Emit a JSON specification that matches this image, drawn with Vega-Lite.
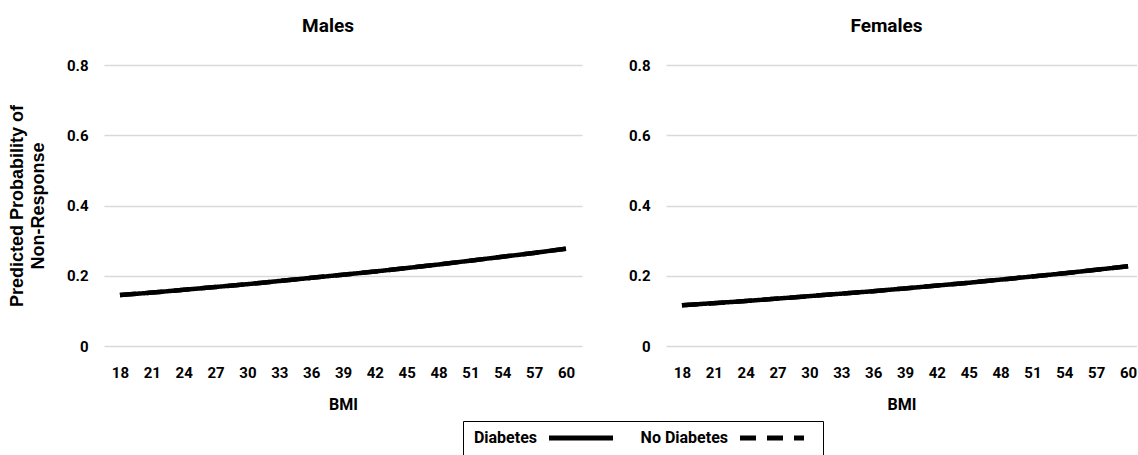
{
  "$schema": "https://vega.github.io/schema/vega-lite/v6.json",
  "padding": {"left": 8, "top": 17, "right": 0, "bottom": 0},
  "background": "white",
  "config": {
    "view": {"stroke": null},
    "font": "Roboto",
    "axis": {
      "labelFont": "Roboto",
      "labelFontWeight": "bold",
      "labelFontSize": 15,
      "labelColor": "#000000",
      "titleFont": "Roboto",
      "titleFontWeight": "bold",
      "titleFontSize": 16,
      "titleColor": "#000000",
      "ticks": false,
      "tickSize": 0,
      "domain": false
    },
    "title": {"font": "Roboto", "fontWeight": "bold", "fontSize": 19, "color": "#000000"}
  },
  "datasets": {
    "males": [
      {"BMI": 18, "p": 0.145, "group": "Diabetes"},
      {"BMI": 21, "p": 0.152, "group": "Diabetes"},
      {"BMI": 24, "p": 0.160, "group": "Diabetes"},
      {"BMI": 27, "p": 0.168, "group": "Diabetes"},
      {"BMI": 30, "p": 0.176, "group": "Diabetes"},
      {"BMI": 33, "p": 0.185, "group": "Diabetes"},
      {"BMI": 36, "p": 0.194, "group": "Diabetes"},
      {"BMI": 39, "p": 0.203, "group": "Diabetes"},
      {"BMI": 42, "p": 0.212, "group": "Diabetes"},
      {"BMI": 45, "p": 0.222, "group": "Diabetes"},
      {"BMI": 48, "p": 0.232, "group": "Diabetes"},
      {"BMI": 51, "p": 0.243, "group": "Diabetes"},
      {"BMI": 54, "p": 0.254, "group": "Diabetes"},
      {"BMI": 57, "p": 0.265, "group": "Diabetes"},
      {"BMI": 60, "p": 0.277, "group": "Diabetes"},
      {"BMI": 18, "p": 0.145, "group": "No Diabetes"},
      {"BMI": 21, "p": 0.152, "group": "No Diabetes"},
      {"BMI": 24, "p": 0.160, "group": "No Diabetes"},
      {"BMI": 27, "p": 0.168, "group": "No Diabetes"},
      {"BMI": 30, "p": 0.176, "group": "No Diabetes"},
      {"BMI": 33, "p": 0.185, "group": "No Diabetes"},
      {"BMI": 36, "p": 0.194, "group": "No Diabetes"},
      {"BMI": 39, "p": 0.203, "group": "No Diabetes"},
      {"BMI": 42, "p": 0.212, "group": "No Diabetes"},
      {"BMI": 45, "p": 0.222, "group": "No Diabetes"},
      {"BMI": 48, "p": 0.232, "group": "No Diabetes"},
      {"BMI": 51, "p": 0.243, "group": "No Diabetes"},
      {"BMI": 54, "p": 0.254, "group": "No Diabetes"},
      {"BMI": 57, "p": 0.265, "group": "No Diabetes"},
      {"BMI": 60, "p": 0.277, "group": "No Diabetes"}
    ],
    "females": [
      {"BMI": 18, "p": 0.116, "group": "Diabetes"},
      {"BMI": 21, "p": 0.122, "group": "Diabetes"},
      {"BMI": 24, "p": 0.128, "group": "Diabetes"},
      {"BMI": 27, "p": 0.135, "group": "Diabetes"},
      {"BMI": 30, "p": 0.142, "group": "Diabetes"},
      {"BMI": 33, "p": 0.149, "group": "Diabetes"},
      {"BMI": 36, "p": 0.156, "group": "Diabetes"},
      {"BMI": 39, "p": 0.164, "group": "Diabetes"},
      {"BMI": 42, "p": 0.172, "group": "Diabetes"},
      {"BMI": 45, "p": 0.180, "group": "Diabetes"},
      {"BMI": 48, "p": 0.189, "group": "Diabetes"},
      {"BMI": 51, "p": 0.198, "group": "Diabetes"},
      {"BMI": 54, "p": 0.207, "group": "Diabetes"},
      {"BMI": 57, "p": 0.217, "group": "Diabetes"},
      {"BMI": 60, "p": 0.227, "group": "Diabetes"},
      {"BMI": 18, "p": 0.116, "group": "No Diabetes"},
      {"BMI": 21, "p": 0.122, "group": "No Diabetes"},
      {"BMI": 24, "p": 0.128, "group": "No Diabetes"},
      {"BMI": 27, "p": 0.135, "group": "No Diabetes"},
      {"BMI": 30, "p": 0.142, "group": "No Diabetes"},
      {"BMI": 33, "p": 0.149, "group": "No Diabetes"},
      {"BMI": 36, "p": 0.156, "group": "No Diabetes"},
      {"BMI": 39, "p": 0.164, "group": "No Diabetes"},
      {"BMI": 42, "p": 0.172, "group": "No Diabetes"},
      {"BMI": 45, "p": 0.180, "group": "No Diabetes"},
      {"BMI": 48, "p": 0.189, "group": "No Diabetes"},
      {"BMI": 51, "p": 0.198, "group": "No Diabetes"},
      {"BMI": 54, "p": 0.207, "group": "No Diabetes"},
      {"BMI": 57, "p": 0.217, "group": "No Diabetes"},
      {"BMI": 60, "p": 0.227, "group": "No Diabetes"}
    ]
  },
  "spacing": 46,
  "resolve": {"scale": {"x": "independent", "y": "independent"}, "legend": {"strokeDash": "shared"}},
  "hconcat": [
    {
      "width": 478,
      "height": 281,
      "title": {"text": "Males", "frame": "group", "anchor": "middle", "dx": -15, "offset": 22},
      "data": {"name": "males"},
      "mark": {"type": "line", "color": "#000000", "strokeWidth": 4.5, "clip": true},
      "encoding": {
        "x": {
          "field": "BMI", "type": "quantitative",
          "scale": {"domain": [16.5, 61.5], "nice": false, "zero": false},
          "axis": {"values": [18, 21, 24, 27, 30, 33, 36, 39, 42, 45, 48, 51, 54, 57, 60], "grid": false, "labelPadding": 19, "title": "BMI", "titlePadding": 16}
        },
        "y": {
          "field": "p", "type": "quantitative",
          "scale": {"domain": [0, 0.8], "nice": false},
          "axis": {"values": [0, 0.2, 0.4, 0.6, 0.8], "format": "~g", "grid": true, "gridColor": "#d9d9d9", "gridWidth": 1.5, "labelPadding": 16,
                   "title": ["Predicted Probability of", "Non-Response"], "titleFont": "Liberation Sans", "titleFontSize": 18, "titleLineHeight": 21, "titlePadding": 19}
        },
        "strokeDash": {
          "field": "group", "type": "nominal",
          "scale": {"domain": ["Diabetes", "No Diabetes"], "range": [[1, 0], [16, 11]]},
          "legend": {
            "orient": "none", "direction": "horizontal", "title": null,
            "legendX": 359, "legendY": 356,
            "strokeColor": "#000000", "fillColor": "#ffffff", "padding": 9,
            "symbolType": "M-6.4,0L6.4,0", "symbolSize": 100, "symbolStrokeWidth": 5, "symbolStrokeColor": "#000000", "symbolOffset": 101,
            "labelFont": "Roboto", "labelFontWeight": "bold", "labelFontSize": 16, "labelColor": "#000000",
            "labelAlign": "right", "labelOffset": -52, "columnPadding": 17
          }
        }
      }
    },
    {
      "width": 471,
      "height": 281,
      "title": {"text": "Females", "frame": "group", "anchor": "middle", "dx": -15, "offset": 22},
      "data": {"name": "females"},
      "mark": {"type": "line", "color": "#000000", "strokeWidth": 4.5, "clip": true},
      "encoding": {
        "x": {
          "field": "BMI", "type": "quantitative",
          "scale": {"domain": [16.5, 60.84], "nice": false, "zero": false},
          "axis": {"values": [18, 21, 24, 27, 30, 33, 36, 39, 42, 45, 48, 51, 54, 57, 60], "grid": false, "labelPadding": 19, "title": "BMI", "titlePadding": 16}
        },
        "y": {
          "field": "p", "type": "quantitative",
          "scale": {"domain": [0, 0.8], "nice": false},
          "axis": {"values": [0, 0.2, 0.4, 0.6, 0.8], "format": "~g", "grid": true, "gridColor": "#d9d9d9", "gridWidth": 1.5, "labelPadding": 16, "title": null}
        },
        "strokeDash": {
          "field": "group", "type": "nominal",
          "scale": {"domain": ["Diabetes", "No Diabetes"], "range": [[1, 0], [16, 11]]}
        }
      }
    }
  ]
}
